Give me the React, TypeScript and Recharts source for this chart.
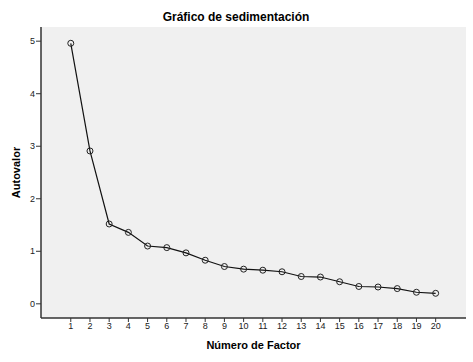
import React from 'react';
import { LineChart, Line, XAxis, YAxis, CartesianGrid, Label } from 'recharts';

const factors = [1, 2, 3, 4, 5, 6, 7, 8, 9, 10, 11, 12, 13, 14, 15, 16, 17, 18, 19, 20];
const eigenvalues = [4.96, 2.91, 1.52, 1.36, 1.10, 1.07, 0.97, 0.83, 0.71, 0.66, 0.64, 0.61, 0.52, 0.51, 0.42, 0.33, 0.32, 0.29, 0.22, 0.20];
const yTicks = [0, 1, 2, 3, 4, 5];
const title = 'Gráfico de sedimentación';
const xLabel = 'Número de Factor';
const yLabel = 'Autovalor';

const data = factors.map((f, i) => ({ factor: f, value: eigenvalues[i] }));

const FONT = '"Liberation Sans", Arial, sans-serif';

const Dot = (props: any) => {
  const { cx, cy } = props;
  if (cx == null || cy == null) return null;
  return <circle cx={cx} cy={cy} r={3} fill="none" stroke="#222" strokeWidth={1} />;
};

export default function App() {
  return (
    <div style={{ position: 'absolute', left: 0, top: 0, width: 473, height: 362, background: '#fff' }}>
      <LineChart width={473} height={362} data={data} margin={{ top: 27, right: 7, bottom: 0, left: 0 }}>
        <CartesianGrid fill="#f0f0f0" horizontal={false} vertical={false} />
        <XAxis
          xAxisId="top"
          orientation="top"
          dataKey="factor"
          type="number"
          domain={[-0.55, 21.58]}
          allowDataOverflow
          tick={false}
          tickLine={false}
          height={0}
          axisLine={{ stroke: '#777', strokeWidth: 1 }}
        />
        <YAxis
          yAxisId="right"
          orientation="right"
          type="number"
          domain={[-0.27, 5.27]}
          allowDataOverflow
          tick={false}
          tickLine={false}
          width={0}
          axisLine={{ stroke: '#555', strokeWidth: 1 }}
        />
        <XAxis
          dataKey="factor"
          type="number"
          domain={[-0.55, 21.58]}
          allowDataOverflow
          ticks={factors}
          interval={0}
          height={44}
          tickSize={4}
          tickMargin={1}
          axisLine={{ stroke: '#333', strokeWidth: 1.5 }}
          tickLine={{ stroke: '#333' }}
          tick={{ fontSize: 9, fill: '#222', fontFamily: FONT }}
        >
          <Label
            value={xLabel}
            position="insideBottom"
            offset={13}
            style={{ fontSize: 11, fontWeight: 'bold', fill: '#000', fontFamily: FONT }}
          />
        </XAxis>
        <YAxis
          type="number"
          domain={[-0.27, 5.27]}
          allowDataOverflow
          ticks={yTicks}
          width={41}
          tickSize={5}
          tickMargin={1}
          axisLine={{ stroke: '#333', strokeWidth: 1.5 }}
          tickLine={{ stroke: '#333' }}
          tick={{ fontSize: 9, fill: '#222', fontFamily: FONT }}
        >
          <Label
            value={yLabel}
            angle={-90}
            position="insideLeft"
            offset={16}
            style={{ fontSize: 11, fontWeight: 'bold', fill: '#000', fontFamily: FONT, textAnchor: 'middle' }}
          />
        </YAxis>
        <Line
          type="linear"
          dataKey="value"
          stroke="#111"
          strokeWidth={1.2}
          dot={<Dot />}
          activeDot={false}
          isAnimationActive={false}
        />
        <text
          x={236}
          y={17}
          textAnchor="middle"
          dominantBaseline="central"
          style={{ fontSize: 12, fontWeight: 'bold', fill: '#000', fontFamily: FONT }}
        >
          {title}
        </text>
      </LineChart>
    </div>
  );
}
